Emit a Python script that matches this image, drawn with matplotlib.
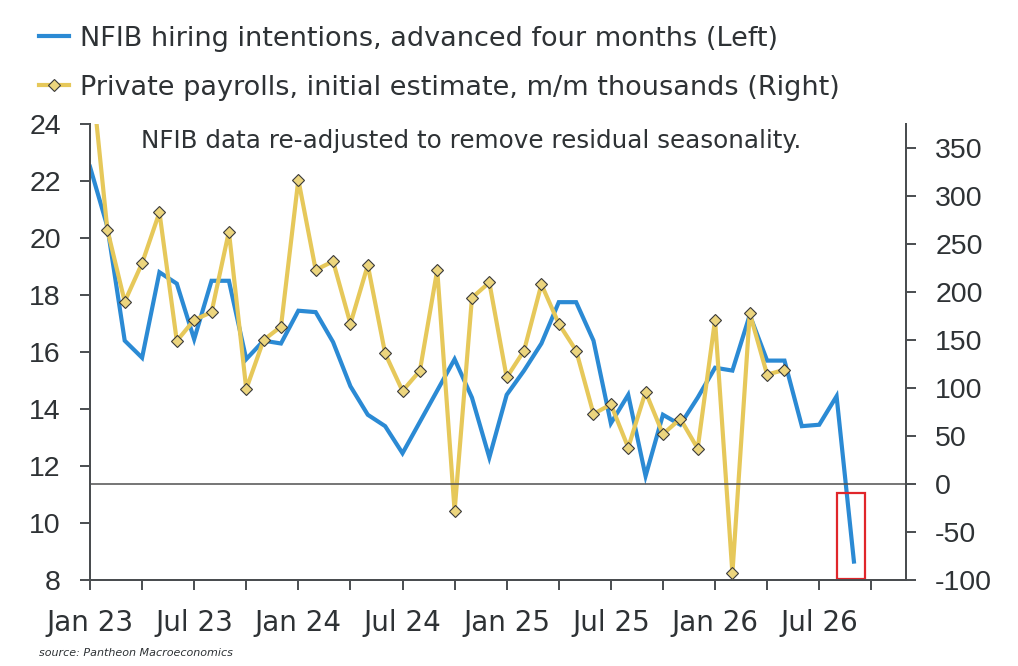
import matplotlib
matplotlib.use("Agg")
import matplotlib.pyplot as plt
from matplotlib.patches import Rectangle
from matplotlib.lines import Line2D

# months since Jan 2023
nfib = [22.5, 20.4, 16.4, 15.8, 18.8, 18.4, 16.45, 18.5, 18.5, 15.75, 16.4, 16.3,
        17.45, 17.4, 16.35, 14.8, 13.8, 13.4, 12.45, 13.55, 14.65, 15.75, 14.4, 12.3,
        14.5, 15.35, 16.3, 17.75, 17.75, 16.4, 13.5, 14.5, 11.65, 13.8, 13.45, 14.4,
        15.45, 15.35, 17.3, 15.7, 15.7, 13.4, 13.45, 14.45, 8.65]
payrolls = [443, 265, 190, 230, 283, 149, 171, 179, 263, 99, 150, 164,
            317, 223, 232, 167, 228, 136, 97, 118, 223, -28, 194, 210,
            111, 139, 208, 167, 139, 73, 83, 38, 96, 52, 68, 37,
            171, -93, 178, 114, 119]
tick_months = list(range(0, 46, 3))
tick_labels = ['Jan 23', '', 'Jul 23', '', 'Jan 24', '', 'Jul 24', '', 'Jan 25', '',
               'Jul 25', '', 'Jan 26', '', 'Jul 26', '']
left_ticks = list(range(8, 25, 2))
right_ticks = list(range(-100, 351, 50))

blue = '#2b8ad4'
gold = '#e6c85a'
txt = '#2e3235'
spine = '#4a4d50'
numfont = ['Liberation Sans', 'DejaVu Sans']

plt.rcParams['font.family'] = ['DejaVu Sans']

fig = plt.figure(figsize=(10.18, 6.66), dpi=100)
ax = fig.add_axes([0.0884, 0.129, 0.8016, 0.6848])
ax2 = ax.twinx()

ax.plot(range(len(nfib)), nfib, color=blue, lw=3.0, solid_joinstyle='miter')
ax2.plot(range(len(payrolls)), payrolls, color=gold, lw=3.0,
         marker='D', markersize=6, markerfacecolor='#ecd57e',
         markeredgecolor='#3a3a3a', markeredgewidth=0.8)
ax2.axhline(0, color='#505050', lw=1.1)

ax.set_xlim(0, 47)
ax.set_ylim(8, 24)
ax2.set_ylim(-100, 375)
ax.set_yticks(left_ticks)
ax.set_yticklabels([str(v) for v in left_ticks], fontfamily=numfont, fontsize=20.5)
ax2.set_yticks(right_ticks)
ax2.set_yticklabels([str(v) for v in right_ticks], fontfamily=numfont, fontsize=20.5)
ax.set_xticks(tick_months)
ax.set_xticklabels(tick_labels, fontsize=20)

for a in (ax, ax2):
    a.spines['top'].set_visible(False)
    for s in ('left', 'right', 'bottom'):
        a.spines[s].set_color(spine)
        a.spines[s].set_linewidth(1.4)
    a.tick_params(colors=spine, labelcolor=txt, length=7, width=1.4, pad=14)
ax.yaxis.set_tick_params(left=True, labelleft=True, direction='out', length=7, pad=14)

# highlight the latest reading
ax.add_patch(Rectangle((43.05, 8.03), 1.6, 3.04, fill=False, edgecolor='#e0262b',
                       lw=1.6, clip_on=False, zorder=5))

ax.text(0.062, 0.99, 'NFIB data re-adjusted to remove residual seasonality.',
        transform=ax.transAxes, ha='left', va='top', fontsize=17.7, color=txt)

handles = [Line2D([], [], color=blue, lw=3.0),
           Line2D([], [], color=gold, lw=3.0, marker='D', markersize=6,
                  markerfacecolor='#ecd57e', markeredgecolor='#3a3a3a', markeredgewidth=0.8)]
labels = ['NFIB hiring intentions, advanced four months (Left)',
          'Private payrolls, initial estimate, m/m thousands (Right)']
fig.legend(handles, labels, loc='upper left', bbox_to_anchor=(0.02, 0.99),
           frameon=False, fontsize=19.5, handlelength=1.1, handletextpad=0.4,
           labelspacing=0.85, labelcolor=txt, borderaxespad=0.3)

fig.text(0.038, 0.012, 'source: Pantheon Macroeconomics', fontsize=8,
         style='italic', color=txt, ha='left', va='bottom')

fig.savefig('out.png', dpi=100)
